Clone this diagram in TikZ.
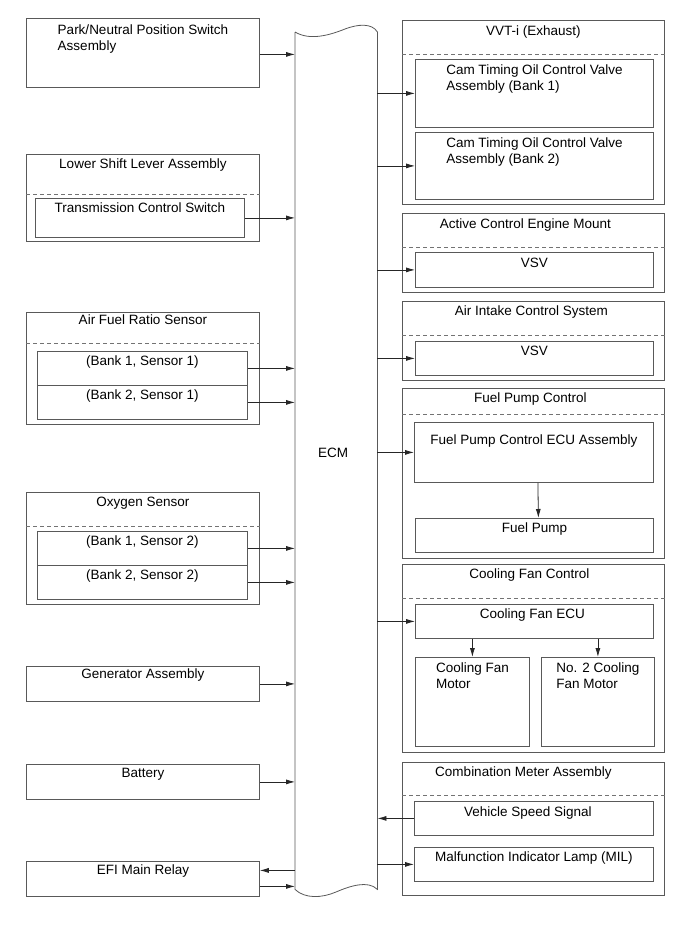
\documentclass[tikz,border=0pt]{standalone}
\usepackage{fontspec}
\setmainfont{Liberation Sans}
\usetikzlibrary{arrows.meta}

\begin{document}
\begin{tikzpicture}[x=1pt,y=-1pt,>={Latex[length=9pt,width=5pt]},
        every node/.style={font=\fontsize{13.5}{16}\selectfont},
        box/.style={draw=black!65,line width=0.8pt,anchor=north west,inner sep=0pt},
        title/.style={anchor=north,inner sep=0pt,yshift=-5pt,align=left},
        sig/.style={->,line width=0.8pt,draw=black!85},
        sep/.style={draw=black!55,line width=0.8pt,dash pattern=on 4pt off 3pt}]
        \useasboundingbox[fill=white] (0,0) rectangle (689,951);
        % left column
        \node[box,minimum width=233pt,minimum height=69pt,label={[title,yshift=-2pt]north:Park/Neutral Position Switch\\Assembly}] (park) at (26,18) {};
        \node[box,minimum width=233pt,minimum height=87pt,label={[title]north:Lower Shift Lever Assembly}] (lsl) at (26,154) {};
        \node[box,minimum width=209pt,minimum height=39pt,label={[title]north:Transmission Control Switch}] (tcs) at (35,198) {};
        \node[box,minimum width=233pt,minimum height=112pt,label={[title,yshift=2pt]north:Air Fuel Ratio Sensor}] (afr) at (26,312) {};
        \node[box,minimum width=210pt,minimum height=34pt,label={[title]north:{(Bank 1, Sensor 1)}}] (afra) at (37,351) {};
        \node[box,minimum width=210pt,minimum height=34pt,label={[title]north:{(Bank 2, Sensor 1)}}] (afrb) at (37,385) {};
        \node[box,minimum width=233pt,minimum height=112pt,label={[title]north:Oxygen Sensor}] (oxs) at (26,492) {};
        \node[box,minimum width=210pt,minimum height=34pt,label={[title]north:{(Bank 1, Sensor 2)}}] (oxsa) at (37,531) {};
        \node[box,minimum width=210pt,minimum height=34pt,label={[title]north:{(Bank 2, Sensor 2)}}] (oxsb) at (37,565) {};
        \node[box,minimum width=233pt,minimum height=35pt,label={[title,yshift=2pt]north:Generator Assembly}] (gen) at (26,666) {};
        \node[box,minimum width=233pt,minimum height=35pt,label={[title,yshift=1pt]north:Battery}] (bat) at (26,764) {};
        \node[box,minimum width=233pt,minimum height=35pt,label={[title,yshift=1pt]north:EFI Main Relay}] (efi) at (26,861) {};
        \draw[sep] (lsl.west |- 0,194) -- (lsl.east |- 0,194);
        \draw[sep] (afr.west |- 0,343) -- (afr.east |- 0,343);
        \draw[sep] (oxs.west |- 0,526) -- (oxs.east |- 0,526);
        % ECM
        \node[anchor=north west,inner sep=0pt,minimum width=82pt,minimum height=857pt,label={[xshift=-3pt,yshift=8pt]center:ECM}] (ecm) at (295,32) {};
        \draw[draw=black!65,line width=0.8pt] (ecm.north west) -- (ecm.south west)
            .. controls (305,899) and (322,898) .. (336,892)
            .. controls (350,886) and (368,880) .. (ecm.south east)
            -- (ecm.north east)
            .. controls (372,23) and (358,24) .. (345,29)
            .. controls (330,35) and (310,41) .. (ecm.north west);
        % right column
        \node[box,minimum width=262pt,minimum height=184pt,label={[title,yshift=-1pt]north:VVT-i (Exhaust)}] (vvt) at (402,20) {};
        \node[box,minimum width=238pt,minimum height=68pt,label={[title,yshift=-1pt]north:Cam Timing Oil Control Valve\\Assembly (Bank 1)}] (cam1) at (415,59) {};
        \node[box,minimum width=238pt,minimum height=67pt,label={[title,yshift=-1pt]north:Cam Timing Oil Control Valve\\Assembly (Bank 2)}] (cam2) at (415,132) {};
        \node[box,minimum width=262pt,minimum height=79pt,label={[title,xshift=-8pt,yshift=-1pt]north:Active Control Engine Mount}] (acm) at (402,213) {};
        \node[box,minimum width=238pt,minimum height=35pt,label={[title,yshift=-1pt]north:VSV}] (vsva) at (415,252) {};
        \node[box,minimum width=262pt,minimum height=79pt,label={[title,xshift=-2pt]north:Air Intake Control System}] (aic) at (402,301) {};
        \node[box,minimum width=238pt,minimum height=34pt,label={[title]north:VSV}] (vsvb) at (415,341) {};
        \node[box,minimum width=262pt,minimum height=170pt,label={[title,xshift=-3pt]north:Fuel Pump Control}] (fpc) at (402,388) {};
        \node[box,minimum width=239pt,minimum height=60pt,label={[title,yshift=-8pt]north:Fuel Pump Control ECU Assembly}] (fpecu) at (414,422) {};
        \node[box,minimum width=238pt,minimum height=34pt,label={[title]north:Fuel Pump}] (fp) at (415,518) {};
        \node[box,minimum width=262pt,minimum height=188pt,label={[title,xshift=-4pt]north:Cooling Fan Control}] (cfc) at (402,564) {};
        \node[box,minimum width=238pt,minimum height=34pt,label={[title,xshift=-2pt]north:Cooling Fan ECU}] (cfecu) at (415,604) {};
        \node[box,minimum width=114pt,minimum height=89pt,label={[title,yshift=-1pt]north:Cooling Fan\\Motor}] (cfma) at (415,657) {};
        \node[box,minimum width=113pt,minimum height=89pt,label={[title,yshift=-1pt]north:No. 2 Cooling\\Fan Motor}] (cfmb) at (541,657) {};
        \node[box,minimum width=262pt,minimum height=133pt,label={[title,xshift=-10pt]north:Combination Meter Assembly}] (cma) at (402,762) {};
        \node[box,minimum width=239pt,minimum height=34pt,label={[title,xshift=-6pt,yshift=-1pt]north:Vehicle Speed Signal}] (vss) at (414,801) {};
        \node[box,minimum width=239pt,minimum height=34pt,label={[title]north:Malfunction Indicator Lamp (MIL)}] (mil) at (414,847) {};
        \draw[sep] (vvt.west |- 0,54) -- (vvt.east |- 0,54);
        \draw[sep] (acm.west |- 0,247) -- (acm.east |- 0,247);
        \draw[sep] (aic.west |- 0,335) -- (aic.east |- 0,335);
        \draw[sep] (fpc.west |- 0,414) -- (fpc.east |- 0,414);
        \draw[sep] (cfc.west |- 0,598) -- (cfc.east |- 0,598);
        \draw[sep] (cma.west |- 0,795) -- (cma.east |- 0,795);
        % signals
        \draw[sig] ([yshift=-1.5pt]park.east) -- ([yshift=-1.5pt]park.east -| ecm.west);
        \draw[sig] (tcs.east) -- (tcs.east -| ecm.west);
        \draw[sig] (afra.east) -- (afra.east -| ecm.west);
        \draw[sig] (afrb.east) -- (afrb.east -| ecm.west);
        \draw[sig] (oxsa.east) -- (oxsa.east -| ecm.west);
        \draw[sig] (oxsb.east) -- (oxsb.east -| ecm.west);
        \draw[sig] (gen.east) -- (gen.east -| ecm.west);
        \draw[sig] (bat.east) -- (bat.east -| ecm.west);
        \draw[sig] ([yshift=8.5pt]efi.east -| ecm.west) -- ([yshift=8.5pt]efi.east);
        \draw[sig] ([yshift=-7.5pt]efi.east) -- ([yshift=-7.5pt]efi.east -| ecm.west);
        \draw[sig] (cam1.west -| ecm.east) -- (cam1.west);
        \draw[sig] (cam2.west -| ecm.east) -- (cam2.west);
        \draw[sig] (vsva.west -| ecm.east) -- (vsva.west);
        \draw[sig] (vsvb.west -| ecm.east) -- (vsvb.west);
        \draw[sig] (fpecu.west -| ecm.east) -- (fpecu.west);
        \draw[sig] (cfecu.west -| ecm.east) -- (cfecu.west);
        \draw[sig] (vss.west) -- (vss.west -| ecm.east);
        \draw[sig] (mil.west -| ecm.east) -- (mil.west);
        \draw[sig] ([xshift=4pt]fpecu.south) -- ([xshift=4pt]fp.north);
        \draw[sig] (cfecu.south -| cfma.north) -- (cfma.north);
        \draw[sig] (cfecu.south -| cfmb.north) -- (cfmb.north);
    \end{tikzpicture}
\end{document}
